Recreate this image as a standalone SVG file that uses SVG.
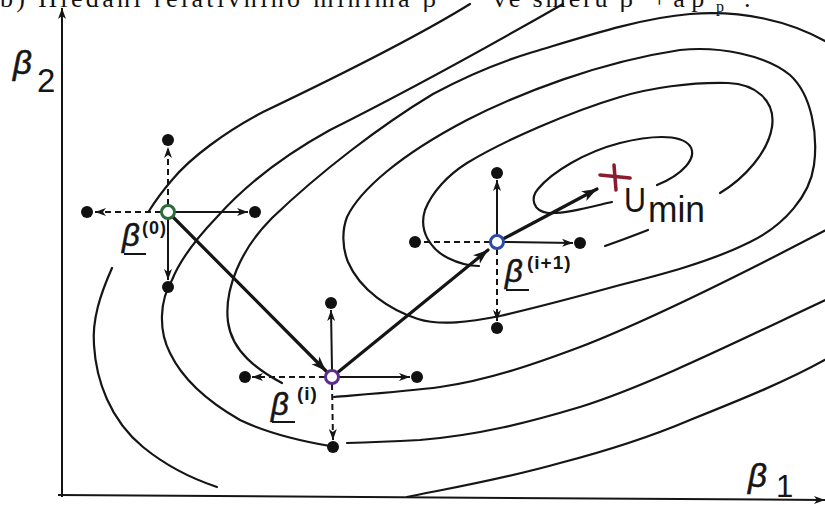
<svg xmlns="http://www.w3.org/2000/svg" width="825" height="505" viewBox="0 0 825 505">
<defs>
<style>
.c{fill:none;stroke:#151515;stroke-width:2.2;stroke-linecap:round}
.ax{fill:none;stroke:#151515;stroke-width:2}
.ray{fill:none;stroke:#151515;stroke-width:2}
.dash{fill:none;stroke:#151515;stroke-width:2;stroke-dasharray:6 4}
.big{fill:none;stroke:#151515;stroke-width:3.2;stroke-linecap:round}
.dot{fill:#111}
.lbl{font-family:"Liberation Sans",Arial,sans-serif;fill:#151515}
.sup{font-family:"Liberation Sans",Arial,sans-serif;font-weight:bold;fill:#151515;letter-spacing:1px}
.gr{font-family:"Liberation Sans",Arial,sans-serif;font-style:italic;fill:#151515;stroke:#151515;stroke-width:0.6}
.cap{font-family:"Liberation Serif","Times New Roman",serif;font-size:26px;fill:#111}
</style>
<marker id="ah" markerUnits="userSpaceOnUse" markerWidth="12" markerHeight="9" refX="11" refY="4.5" orient="auto">
<path d="M0,0.5 L11,4.5 L0,8.5 L3,4.5 Z" fill="#151515"/>
</marker>
<marker id="ahb" markerUnits="userSpaceOnUse" markerWidth="16" markerHeight="12" refX="15" refY="6" orient="auto">
<path d="M0,0.5 L15,6 L0,11.5 L4,6 Z" fill="#151515"/>
</marker>
</defs>
<rect width="825" height="505" fill="#ffffff"/>

<g id="caption">
<text class="cap" x="0" y="7" textLength="436" lengthAdjust="spacing">b) Hledání relativního minima β</text>
<text class="cap" x="493" y="7" textLength="140" lengthAdjust="spacing">ve směru β</text>
<text class="cap" x="652" y="7">+ a p</text>
<text class="cap" x="716" y="12" style="font-size:16px">p</text>
<text class="cap" x="744" y="7">.</text>
</g>

<g id="axes">
<line class="ax" x1="62" y1="497" x2="62" y2="8" marker-end="url(#ah)"/>
<line class="ax" x1="58" y1="495" x2="825" y2="500" marker-end="url(#ah)"/>
<text class="gr" x="13" y="74" font-size="33">β</text>
<text class="lbl" x="37" y="92" font-size="33">2</text>
<text class="gr" x="748" y="487" font-size="33">β</text>
<text class="lbl" x="776" y="497" font-size="31">1</text>
</g>

<g id="contours">
<path class="c" d="M612,202 C590,207 565,214 548,213 C533,211 530,198 538,189 C552,172 585,152 620,143 C648,136 680,133 690,146 C698,158 682,175 657,185"/>
<path class="c" d="M720,193 C745,178 768,152 772,127 C776,100 755,84 728,83 C690,82 650,88 620,97 C570,112 505,140 467,163 C448,175 432,192 425,210 C418,232 432,250 448,258 C460,264 470,266 479,266"/>
<path class="c" d="M605,246 Q625,239 648,230"/>
<path class="c" d="M347,217 C360,190 400,155 467,120 C520,93 600,62 680,50 C720,46 765,55 790,75 C812,95 818,135 814,165 C810,195 785,225 750,242 C710,262 660,275 620,285 C580,296 530,309 500,316 C470,322 440,326 418,319 C390,310 360,290 348,262 C342,247 342,230 347,217 Z"/>
<path class="c" d="M282,383 C258,370 232,352 228,322 C224,290 240,250 272,218 C320,172 380,126 433,94 C470,74 500,62 533,52 C580,38 640,18 690,14 C740,10 790,20 830,44"/>
<path class="c" d="M334,397 C370,394 410,391 440,387 C490,380 540,362 580,347 C650,320 740,275 830,228"/>
<path class="c" d="M563,4 C500,40 400,95 330,130 C290,152 250,180 217,217 C195,240 180,260 172,280 C160,300 158,330 170,353 C182,378 205,400 240,420 C265,432 295,440 330,446"/>
<path class="c" d="M347,443 C380,442 400,441 420,440 C480,435 530,422 580,407 C650,385 740,340 830,298"/>
<path class="c" d="M470,4 C420,35 330,80 263,112 C225,132 190,158 172,180 C160,194 154,203 149,211"/>
<path class="c" d="M112,268 C100,295 92,320 94,345 C96,380 110,420 143,447 C165,465 190,478 217,487"/>
<path class="c" d="M407,497 C440,490 500,480 560,463 C610,450 650,437 690,420 C740,400 790,380 830,357"/>
</g>

<g id="connectors">
<line class="big" x1="172" y1="216" x2="326" y2="371" marker-end="url(#ahb)"/>
<line class="big" x1="337" y1="373" x2="488" y2="250" marker-end="url(#ahb)"/>
<line class="big" x1="503" y1="239" x2="597" y2="189" marker-end="url(#ahb)"/>
</g>

<g id="beta0">
<line class="dash" x1="168" y1="205" x2="168" y2="147" marker-end="url(#ah)"/>
<line class="dash" x1="161" y1="212" x2="95" y2="212" marker-end="url(#ah)"/>
<line class="ray" x1="175" y1="212" x2="248" y2="212" marker-end="url(#ah)"/>
<line class="ray" x1="168" y1="219" x2="168" y2="280" marker-end="url(#ah)"/>
<circle class="dot" cx="168" cy="140" r="6"/>
<circle class="dot" cx="87" cy="212" r="6"/>
<circle class="dot" cx="255" cy="212" r="6"/>
<circle class="dot" cx="168" cy="287" r="6"/>
<circle cx="168" cy="212" r="6.5" fill="#fff" stroke="#2e6b3c" stroke-width="3"/>
<text class="gr" x="122" y="246" font-size="31">β</text>
<text class="sup" x="142" y="234" font-size="18">(0)</text>
<line x1="124" y1="254" x2="146" y2="254" stroke="#151515" stroke-width="2"/>
</g>

<g id="betai">
<line class="ray" x1="332" y1="370" x2="331" y2="310" marker-end="url(#ah)"/>
<line class="dash" x1="325" y1="377" x2="252" y2="377" marker-end="url(#ah)"/>
<line class="ray" x1="339" y1="377" x2="410" y2="377" marker-end="url(#ah)"/>
<line class="dash" x1="332" y1="384" x2="333" y2="440" marker-end="url(#ah)"/>
<circle class="dot" cx="331" cy="303" r="6"/>
<circle class="dot" cx="245" cy="377" r="6"/>
<circle class="dot" cx="417" cy="377" r="6"/>
<circle class="dot" cx="333" cy="447" r="6"/>
<circle cx="332" cy="377" r="6.5" fill="#fff" stroke="#5b2d8e" stroke-width="3"/>
<text class="gr" x="271" y="415" font-size="31">β</text>
<text class="sup" x="297" y="400" font-size="19">(i)</text>
<line x1="272" y1="422" x2="295" y2="422" stroke="#151515" stroke-width="2"/>
</g>

<g id="betai1">
<line class="ray" x1="497" y1="235" x2="497" y2="180" marker-end="url(#ah)"/>
<line class="dash" x1="490" y1="242" x2="421" y2="242"/>
<line class="ray" x1="504" y1="242" x2="573" y2="243" marker-end="url(#ah)"/>
<line class="dash" x1="497" y1="249" x2="497" y2="321" marker-end="url(#ah)"/>
<circle class="dot" cx="497" cy="173" r="6"/>
<circle class="dot" cx="415" cy="242" r="6"/>
<circle class="dot" cx="580" cy="243" r="6"/>
<circle class="dot" cx="497" cy="328" r="6"/>
<circle cx="497" cy="242" r="6.5" fill="#fff" stroke="#2a4aa8" stroke-width="3"/>
<text class="gr" x="505" y="282" font-size="31">β</text>
<text class="sup" x="527" y="269" font-size="19">(i+1)</text>
<line x1="506" y1="290" x2="529" y2="290" stroke="#151515" stroke-width="2"/>
</g>

<g id="umin">
<line x1="600" y1="175" x2="630" y2="178" stroke="#8b1c30" stroke-width="3.5" stroke-linecap="round"/>
<line x1="614" y1="165" x2="616" y2="190" stroke="#8b1c30" stroke-width="3.5" stroke-linecap="round"/>
<text class="lbl" x="624" y="212" font-size="35" textLength="22" lengthAdjust="spacingAndGlyphs">U</text>
<text class="lbl" x="648" y="222" font-size="36" textLength="57" lengthAdjust="spacingAndGlyphs">min</text>
</g>
</svg>
